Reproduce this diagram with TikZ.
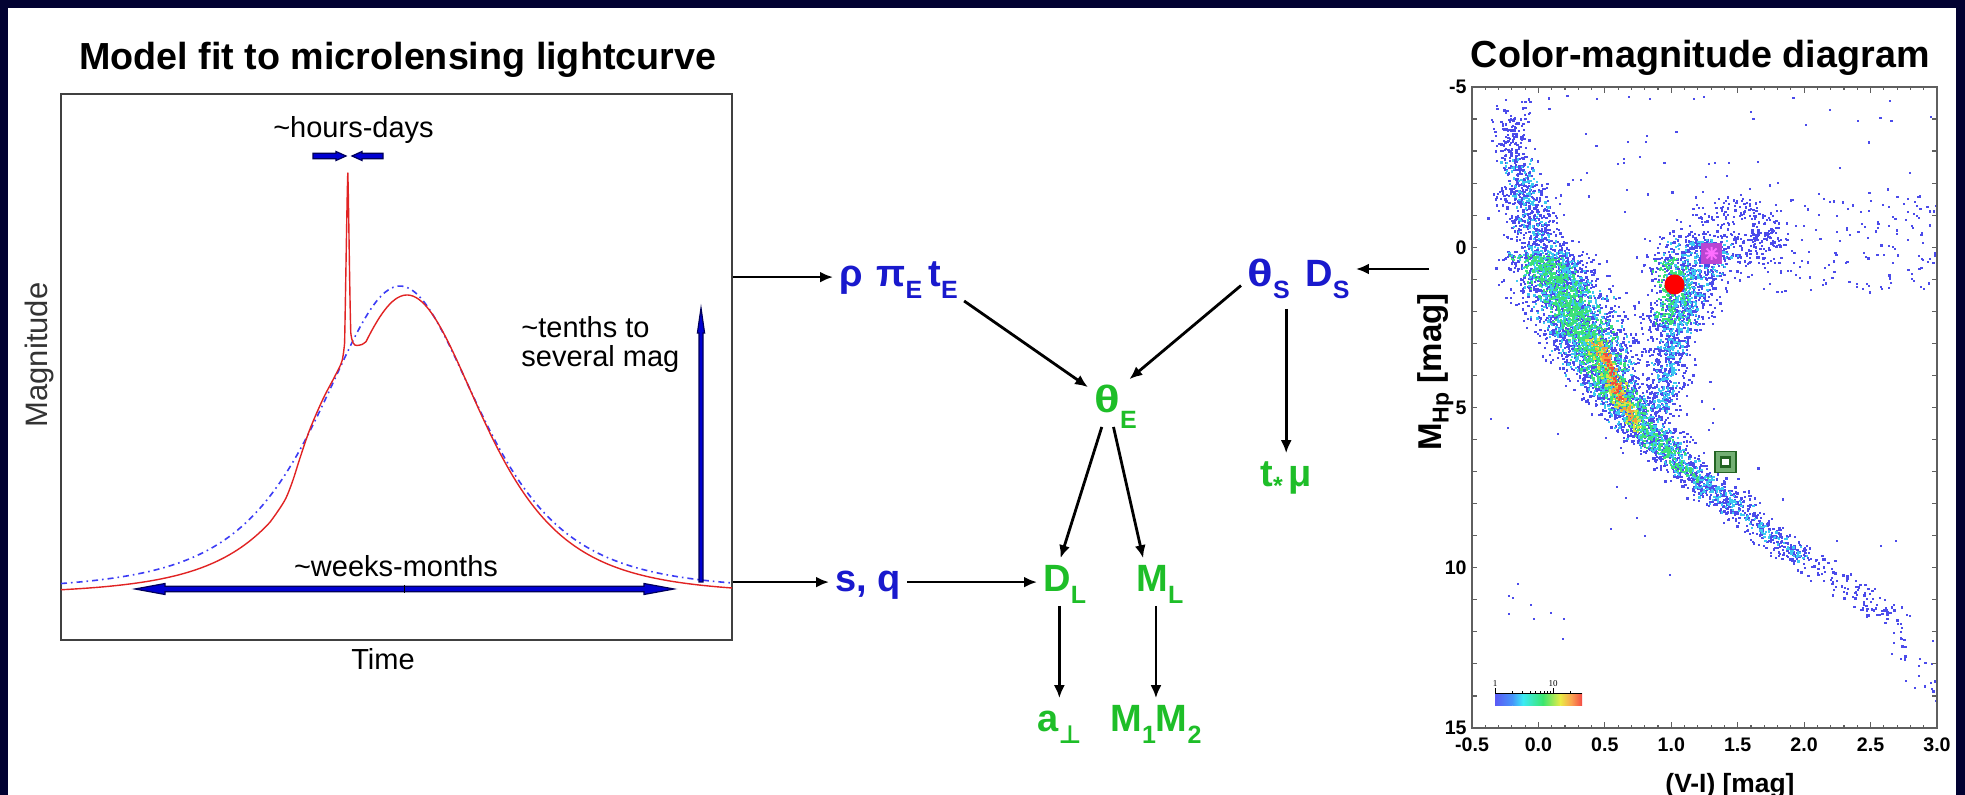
\documentclass[tikz,border=0pt]{standalone}
\usepackage{fontspec}
\setmainfont{Liberation Sans}
\newfontfamily\djv{DejaVu Sans}
\newfontfamily\lserif{Liberation Serif}
\usetikzlibrary{arrows.meta,fit,calc}
\definecolor{navybg}{RGB}{2,2,50}
\definecolor{nodeblue}{RGB}{25,25,205}
\definecolor{nodegreen}{RGB}{30,190,40}
\definecolor{curvered}{RGB}{225,35,35}
\definecolor{curveblue}{RGB}{60,60,245}
\definecolor{arrfill}{RGB}{0,0,210}
\definecolor{arredge}{RGB}{0,0,90}
\definecolor{framegray}{RGB}{95,95,95}
\definecolor{dotblue}{RGB}{75,75,235}
\definecolor{dotcyan}{RGB}{60,200,240}
\definecolor{dotgreen}{RGB}{60,225,120}
\definecolor{dotyellow}{RGB}{215,228,70}
\definecolor{dotorange}{RGB}{245,160,60}
\definecolor{dotred}{RGB}{240,80,60}
\definecolor{cbA}{RGB}{90,90,245}
\definecolor{cbB}{RGB}{70,150,250}
\definecolor{cbC}{RGB}{60,235,245}
\definecolor{cbD}{RGB}{60,230,110}
\definecolor{cbE}{RGB}{235,235,70}
\definecolor{cbF}{RGB}{250,160,80}
\definecolor{cbG}{RGB}{245,75,70}
\definecolor{magsq}{RGB}{185,70,210}
\definecolor{magstar}{RGB}{255,110,255}
\definecolor{gsqout}{RGB}{115,175,115}
\definecolor{gsqdark}{RGB}{35,100,35}
\newcommand\sbs[2][-6pt]{\raisebox{#1}{\fontsize{12.5pt}{12.5pt}\selectfont #2}}
\newcommand\thw{\scalebox{1.25}[1]{θ}}
\newcommand\bandpts[7]{%
  \foreach \k in {1,...,#6}{%
    \pgfmathsetmacro\rT{rnd}%
    \pgfmathsetmacro\rX{#1+\rT*(#3-#1)+(rand+rand+rand)*#5/2}%
    \pgfmathsetmacro\rY{#2+\rT*(#4-#2)+2*rand}%
    \fill[#7] (\rX,\rY) rectangle +(2.3,2.3);}}
\newcommand\blobpts[6]{%
  \foreach \k in {1,...,#5}{%
    \pgfmathsetmacro\rX{#1+(rand+rand+rand)*#3/2}%
    \pgfmathsetmacro\rY{#2+(rand+rand+rand)*#4/2}%
    \fill[#6] (\rX,\rY) rectangle +(2.3,2.3);}}
\newcommand\boxpts[6]{%
  \foreach \k in {1,...,#5}{%
    \pgfmathsetmacro\rX{#1+rnd*(#3-#1)}%
    \pgfmathsetmacro\rY{#2+rnd*(#4-#2)}%
    \fill[#6] (\rX,\rY) rectangle +(2.2,2.2);}}
\begin{document}
\begin{tikzpicture}[x=0.5pt,y=-0.5pt,
  dtext/.style={font=\fontsize{19pt}{19pt}\selectfont\bfseries, inner sep=3pt, text height=13.7pt, text depth=3.8pt, anchor=base west},
  dblue/.style={dtext, text=nodeblue},
  dgreen/.style={dtext, text=nodegreen},
  arr/.style={line width=1.4pt, -{Latex[length=6.5pt,width=5.5pt]}},
  lcfont/.style={font=\fontsize{14.5pt}{14.5pt}\selectfont, inner sep=0pt},
  ticklab/.style={font=\fontsize{9.8pt}{10pt}\selectfont\bfseries, inner sep=0pt},
  blockarr/.style={fill=arrfill, draw=arredge, line width=0.6pt, line join=miter}
]
\useasboundingbox (0,0) rectangle (1965,795);
\fill[navybg] (0,0) rectangle (1965,795);
\fill[white] (8,8) rectangle (1956,795);

% ---------------- light curve panel ----------------
\node[font=\fontsize{18.85pt}{20pt}\selectfont\bfseries, inner sep=0pt, anchor=base west] (lctitle) at (79,70) {Model fit to microlensing lightcurve};
\node[fit={(61,94) (732,640)}, inner sep=0pt, draw=black!75, line width=0.75pt] (lcbox) {};

% point-lens model (blue dash-dot)
\draw[curveblue, line width=0.8pt, dash pattern=on 3pt off 2pt on 0.8pt off 2pt]
  plot[domain=61:730, samples=160] (\x,{591-305/((1+((\x-400)/146)*((\x-400)/146))*(1+((\x-400)/146)*((\x-400)/146)))});
% planetary model (red)
\draw[curvered, line width=0.7pt, line join=round]
  plot[domain=61:270, samples=70] (\x,{595-300/((1+((\x-407)/135)*((\x-407)/135))*(1+((\x-407)/135)*((\x-407)/135)))})
  -- plot[smooth, tension=0.55] coordinates {(270,522.2) (278,511) (286,498) (293,480) (300,458) (310,429) (323,399) (335,376) (342,361) (344.6,343)}
  .. controls (345.6,295) and (347,195) .. (347.8,173)
  .. controls (348.6,195) and (349.7,300) .. (350.8,333)
  .. controls (351.8,342) and (353.8,346) .. (357,345.5)
  -- plot[smooth, tension=0.55] coordinates {(357,345.5) (362,344.5) (366,341.7)}
  -- plot[domain=366:732, samples=140] (\x,{595-300/((1+((\x-407)/138)*((\x-407)/138))*(1+((\x-407)/138)*((\x-407)/138)))});

% annotation arrows
\filldraw[blockarr] (313,153.2) -- (336,153.2) -- (336,151.5) -- (346,156) -- (336,160.5) -- (336,158.8) -- (313,158.8) -- cycle;
\filldraw[blockarr] (383,153.2) -- (362,153.2) -- (362,151.5) -- (352,156) -- (362,160.5) -- (362,158.8) -- (383,158.8) -- cycle;
\filldraw[blockarr] (135,589) -- (165,583.5) -- (165,586.3) -- (644,586.3) -- (644,583.5) -- (674,589) -- (644,594.5) -- (644,591.7) -- (165,591.7) -- (165,594.5) -- cycle;
\filldraw[blockarr] (701,308) -- (704.6,333) -- (703,333) -- (703,582) -- (699,582) -- (699,333) -- (697.4,333) -- cycle;
\draw[black, line width=0.5pt] (404,585) -- (404,593);

\node[lcfont, anchor=base] (hrs) at (353.5,138) {\textasciitilde hours-days};
\node[lcfont, anchor=base west] (ten1) at (521,338) {\textasciitilde tenths to};
\node[lcfont, anchor=base west] (ten2) at (521,367) {several mag};
\node[lcfont, anchor=base] (wks) at (396,577) {\textasciitilde weeks-months};
\node[lcfont, anchor=base] (timelab) at (383,670) {Time};
\node[font=\fontsize{15.5pt}{16pt}\selectfont, text=black!80, inner sep=0pt, rotate=90, anchor=base] (maglab) at (47,355) {Magnitude};

% ---------------- colour-magnitude diagram ----------------
\node[font=\fontsize{18.85pt}{20pt}\selectfont\bfseries, inner sep=0pt, anchor=base east] (cmdtitle) at (1930,68) {Color-magnitude diagram};

\begin{scope}
\clip (1472,87) rectangle (1937,728);
\pgfmathsetseed{4242}
% sparse background
\boxpts{1495}{95}{1930}{215}{70}{dotblue}
\boxpts{1495}{98}{1530}{125}{22}{dotblue}
\boxpts{1740}{195}{1935}{292}{180}{dotblue}
\blobpts{1765}{240}{22}{26}{80}{dotblue}
\blobpts{1722}{212}{40}{16}{80}{dotblue}
% main sequence / upper branch, blue envelope
\bandpts{1508}{118}{1518}{180}{17}{170}{dotblue}
\bandpts{1518}{180}{1540}{250}{30}{360}{dotblue}
\bandpts{1540}{250}{1565}{295}{45}{460}{dotblue}
\bandpts{1565}{295}{1585}{335}{48}{450}{dotblue}
\bandpts{1585}{335}{1605}{375}{42}{420}{dotblue}
\bandpts{1605}{375}{1628}{412}{34}{360}{dotblue}
\bandpts{1628}{412}{1667}{453}{32}{330}{dotblue}
\bandpts{1667}{453}{1733}{507}{28}{330}{dotblue}
\bandpts{1733}{507}{1807}{560}{26}{210}{dotblue}
\bandpts{1807}{560}{1890}{617}{24}{105}{dotblue}
\bandpts{1890}{617}{1935}{690}{22}{30}{dotblue}
\bandpts{1560}{250}{1720}{500}{75}{60}{dotblue}
% giant branch and clump, blue envelope
\bandpts{1708}{232}{1690}{280}{50}{380}{dotblue}
\bandpts{1690}{280}{1672}{330}{32}{320}{dotblue}
\bandpts{1672}{330}{1660}{414}{23}{320}{dotblue}
% cyan layer
\bandpts{1514}{160}{1540}{250}{18}{110}{dotcyan}
\bandpts{1540}{250}{1565}{295}{34}{260}{dotcyan}
\bandpts{1565}{295}{1585}{335}{36}{260}{dotcyan}
\bandpts{1585}{335}{1605}{375}{32}{240}{dotcyan}
\bandpts{1605}{375}{1628}{412}{26}{200}{dotcyan}
\bandpts{1628}{412}{1667}{453}{22}{160}{dotcyan}
\bandpts{1667}{453}{1733}{507}{17}{140}{dotcyan}
\bandpts{1733}{507}{1807}{560}{12}{60}{dotcyan}
\bandpts{1704}{238}{1690}{280}{34}{160}{dotcyan}
\bandpts{1690}{280}{1672}{330}{22}{160}{dotcyan}
\bandpts{1672}{330}{1660}{410}{14}{120}{dotcyan}
% green layer
\bandpts{1535}{255}{1565}{295}{24}{220}{dotgreen}
\bandpts{1565}{295}{1585}{335}{26}{240}{dotgreen}
\bandpts{1585}{335}{1605}{375}{22}{200}{dotgreen}
\bandpts{1605}{375}{1630}{412}{17}{150}{dotgreen}
\bandpts{1630}{412}{1667}{455}{14}{120}{dotgreen}
\bandpts{1667}{455}{1700}{480}{9}{45}{dotgreen}
\bandpts{1670}{258}{1672}{322}{15}{160}{dotgreen}
% yellow / orange / red core
\bandpts{1592}{335}{1612}{380}{10}{70}{dotyellow}
\bandpts{1612}{380}{1638}{430}{10}{80}{dotyellow}
\bandpts{1598}{342}{1615}{385}{7}{55}{dotorange}
\bandpts{1615}{385}{1632}{420}{6}{45}{dotorange}
\bandpts{1603}{350}{1622}{400}{4}{40}{dotred}
% isolated points (white dwarfs, outliers)
\foreach \px/\py in {1508/595,1512/597,1517/583,1508/613,1530/604,1533/618,1550/612,1563/618,1562/638,1490/418,1507/427,1557/433,1610/528,1644/535,1669/574,1636/517,1625/497,1616/486,1713/408,1712/422,1836/540,1880/545,1895/540,1932/640,1935/700}
  {\fill[dotblue] (\px,\py) rectangle +(2.2,2.2);}
\end{scope}

% markers
\fill[red] (1674.5,284.5) circle[radius=10];
\fill[magsq] (1701,243) rectangle (1722,264);
\draw[magstar, line width=1pt] (1705,253.5) -- (1718,253.5) (1711.5,247) -- (1711.5,260) (1706.5,248.5) -- (1716.5,258.5) (1706.5,258.5) -- (1716.5,248.5);
\filldraw[fill=gsqout, draw=gsqdark, line width=0.8pt] (1715,451.5) rectangle (1736,472.5);
\filldraw[fill=white, draw=gsqdark, line width=1.3pt] (1721,457.5) rectangle (1730,466.5);

% colour bar
\shade[left color=cbA, right color=cbB] (1495,694) rectangle (1512.6,706);
\shade[left color=cbB, right color=cbC] (1512.4,694) rectangle (1523,706);
\shade[left color=cbC, right color=cbD] (1522.8,694) rectangle (1543.1,706);
\shade[left color=cbD, right color=cbE] (1542.9,694) rectangle (1560.5,706);
\shade[left color=cbE, right color=cbF] (1560.3,694) rectangle (1571.8,706);
\shade[left color=cbF, right color=cbG] (1571.6,694) rectangle (1582,706);
\draw[black, line width=0.3pt] (1495,693.5) -- (1582,693.5);
\foreach \tx in {1512.5,1522.7,1529.9,1535.5,1540.1,1544,1547.4,1550.3,1570.5}
  {\draw[black, line width=0.3pt] (\tx,693.5) -- (\tx,691);}
\draw[black, line width=0.3pt] (1495,693.5) -- (1495,688) (1553,693.5) -- (1553,688);
\node[font=\lserif\fontsize{4.5pt}{5pt}\selectfont, inner sep=0pt, anchor=base] (cb1) at (1495,687) {1};
\node[font=\lserif\fontsize{4.5pt}{5pt}\selectfont, inner sep=0pt, anchor=base] (cb10) at (1553,687) {10};

% frame and ticks
\node[fit={(1472,87) (1937,728)}, inner sep=0pt, draw=framegray, line width=0.75pt] (cmdframe) {};
\foreach \i in {1,...,19}{
  \pgfmathsetmacro\ty{87+\i*32.05}
  \draw[framegray, line width=0.6pt] (1472,\ty) -- (1477,\ty) (1937,\ty) -- (1932,\ty);}
\foreach \i in {1,...,34}{
  \pgfmathsetmacro\tx{1472+\i*13.286}
  \pgfmathsetmacro\tl{mod(\i,5)==0 ? 6 : 3}
  \draw[framegray, line width=0.6pt] (\tx,87) -- (\tx,87+\tl) (\tx,728) -- (\tx,728-\tl);}
\foreach \v/\yy in {-5/87,0/247.3,5/407.5,10/567.8,15/728}
  {\node[ticklab, anchor=east] at (1467,\yy) {\v};}
\foreach \v/\xx in {-0.5/1472,0.0/1538.4,0.5/1604.8,1.0/1671.3,1.5/1737.7,2.0/1804.1,2.5/1870.6,3.0/1937}
  {\node[ticklab, anchor=base] at (\xx,752) {\v};}
\node[font=\fontsize{13.2pt}{14pt}\selectfont\bfseries, inner sep=0pt, anchor=base] (xlab) at (1730,792) {(V-I) [mag]};
\node[font=\fontsize{16.5pt}{16.5pt}\selectfont\bfseries, inner sep=0pt, rotate=90, anchor=base] (ylab) at (1441,372) {M\raisebox{-3.8pt}{\fontsize{11.5pt}{11.5pt}\selectfont Hp} [mag]};
\coordinate (cmdin) at (1429,269);

% ---------------- parameter diagram ----------------
\node[dblue] (rho) at (833,287) {ρ};
\node[dblue] (piE) at (870,287) {π\sbs{E}};
\node[dblue] (tE) at (922,287) {t\sbs{E}};
\node[dblue] (thetaS) at (1241,287) {\thw\sbs{S}};
\node[dblue] (DS) at (1299,287) {D\sbs{S}};
\node[dgreen] (thetaE) at (1088,413) {\thw\sbs[-8pt]{E}};
\node[dgreen] (tmu) at (1254,487) {t\sbs[-4pt]{*}\hspace{3pt}μ};
\node[dblue] (sq) at (829,592) {s, q};
\node[dgreen] (DL) at (1037,592) {D\sbs{L}};
\node[dgreen] (ML) at (1130,592) {M\sbs{L}};
\node[dgreen] (aperp) at (1031,732) {a\sbs{\djv\bfseries ⊥}};
\node[dgreen] (M12) at (1104,732) {M\sbs{1}M\sbs{2}};

\draw[arr] (lcbox.east |- rho.west) -- (rho.west);
\draw[arr] (tE.south east) -- (thetaE.150);
\draw[arr] (thetaS.197) -- (thetaE.60);
\draw[arr] (cmdin) -- (cmdin -| DS.east);
\draw[arr, shorten <=4pt] (thetaS.south -| tmu.north) -- (tmu.north);
\draw[arr] (thetaE.240) -- (DL.100);
\draw[arr] (thetaE.265) -- (ML.125);
\draw[arr] (lcbox.east |- sq.west) -- (sq.west);
\draw[arr] (sq.east) -- (DL.west);
\draw[arr] (DL.south -| aperp.north) -- (aperp.north);
\draw[arr] (ML.south -| M12.north) -- (M12.north);
\end{tikzpicture}
\end{document}
